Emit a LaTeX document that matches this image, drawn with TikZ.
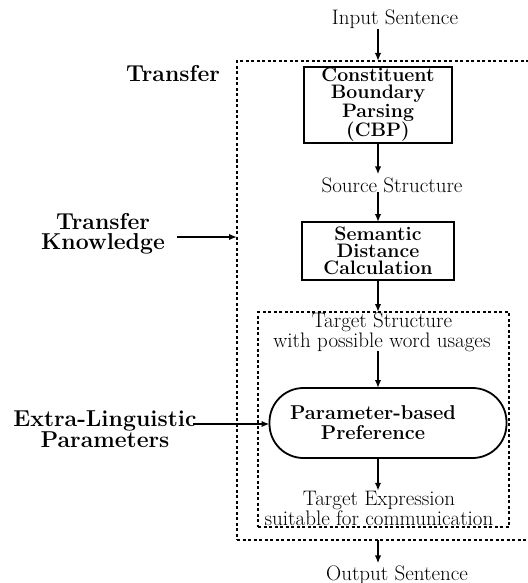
\documentclass[tikz,border=0pt]{standalone}
\usetikzlibrary{arrows.meta}
\begin{document}
\begin{tikzpicture}[x=1pt,y=-1pt,
  every node/.style={inner sep=0pt, outer sep=0pt},
  plain/.style={font=\fontsize{21}{17}\selectfont, align=center},
  side/.style={font=\fontsize{23}{20}\selectfont\bfseries, align=center},
  stepbox/.style={draw, line width=1.8pt, font=\fontsize{19.5}{17}\selectfont\bfseries, align=center},
  prefbox/.style={draw, line width=1.8pt, rounded corners=34pt},
  dotbox/.style={draw, line width=1.4pt, dash pattern=on 3pt off 2.5pt},
  flow/.style={line width=1.8pt, -{Latex[length=8pt,width=6.5pt]}},
]
\useasboundingbox (0,0) rectangle (527,583);

% frames of the transfer stage and of the preference stage
\node[dotbox, anchor=north west, minimum width=308pt, minimum height=479pt] (outer) at (237,61) {};
\node[dotbox, anchor=north west, minimum width=251pt, minimum height=215pt] (inner) at (258,312) {};

% processing steps
\node[stepbox, minimum width=148pt, minimum height=76pt] (cbp) at (378,105)
  {Constituent\\Boundary\\Parsing\\(CBP)};
\node[stepbox, minimum width=152pt, minimum height=58pt] (sem) at (378,251)
  {Semantic\\Distance\\Calculation};
\node[prefbox, minimum width=237pt, minimum height=70pt] (pref) at (388,423) {};
\node[font=\fontsize{20}{20}\selectfont\bfseries, align=center] (preftext) at (373,423)
  {Parameter-based\\Preference};

% intermediate data
\node[plain, anchor=base] (input) at (395,25) {Input Sentence};
\node[plain, anchor=base] (source) at (392,192) {Source Structure};
\node[plain] (tstruct) at (382,332) {Target Structure\\with possible word usages};
\node[plain] (texpr) at (379,508) {Target Expression\\suitable for communication};
\node[plain, anchor=base] (output) at (397,580) {Output Sentence};

% side labels
\node[side, anchor=base] (transfer) at (173,82) {Transfer};
\node[side] (know) at (103,234) {Transfer\\Knowledge};
\node[side] (extra) at (105,429) {Extra-Linguistic\\Parameters};

% main flow
\draw[flow] (input.south -| cbp.north) -- (outer.north -| cbp.north);
\draw[flow, shorten >=3pt] (cbp.south) -- (source.north -| cbp.south);
\draw[flow] (source.south -| sem.north) -- (sem.north);
\draw[flow] (sem.south) -- (inner.north -| sem.south);
\draw[flow] (tstruct.south -| sem.south) -- (pref.north -| sem.south);
\draw[flow] (pref.south -| sem.south) -- (texpr.north -| sem.south);
\draw[flow, shorten >=2pt] (outer.south -| sem.south) -- (output.north -| sem.south);

% knowledge and parameters fed in from the side
\coordinate (kstart) at ([shift={(12,3)}]know.east);
\draw[flow] (kstart) -- (kstart -| outer.west);
\coordinate (estart) at (193,424);
\draw[flow] (estart) -- (estart -| pref.west);
\end{tikzpicture}
\end{document}
